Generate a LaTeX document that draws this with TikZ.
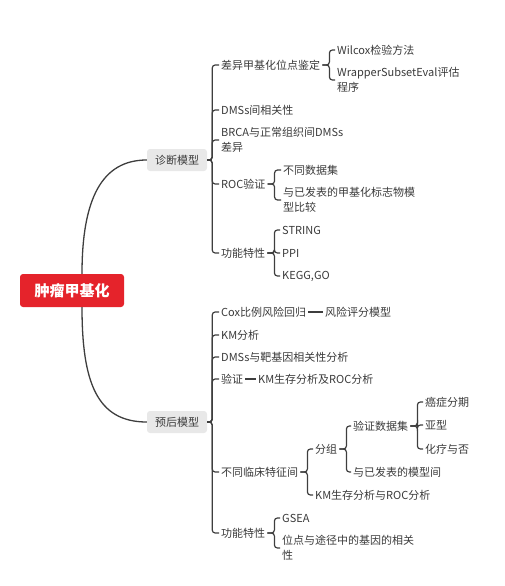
\documentclass[tikz,border=0pt]{standalone}
\usepackage{fontspec}
\setmainfont{Noto Sans CJK SC}
\usepackage{tikz}
\usetikzlibrary{calc}
\definecolor{rootred}{HTML}{E5232B}
\definecolor{topicgray}{HTML}{E8E8E8}
\definecolor{linegray}{HTML}{3E3E3E}
\definecolor{textgray}{HTML}{3A3A3A}
\tikzset{
    root/.style={fill=rootred, text=white, rounded corners=3pt, minimum width=104pt,
        minimum height=33pt, font=\fontsize{15}{18}\selectfont\bfseries},
    topic/.style={fill=topicgray, text=textgray, rounded corners=3pt, minimum width=60pt,
        minimum height=22pt, font=\fontsize{11}{14}\selectfont},
    leaf/.style={anchor=west, text=textgray, inner xsep=2pt, inner ysep=2pt, align=left,
        font=\fontsize{11}{15}\selectfont},
    link/.style={draw=linegray, line width=1.2pt, rounded corners=3pt},
    curvelink/.style={draw=linegray, line width=1.3pt}
}

\begin{document}
\begin{tikzpicture}[x=1pt, y=-1pt]
            \useasboundingbox (0,0) rectangle (505,586);

            % ---------------- main topics ----------------
            \node[root] (root) at (72,290.5) {肿瘤甲基化};
            \node[topic] (diag) at (177,160) {诊断模型};
            \node[topic] (prog) at (177,422) {预后模型};

            \draw[curvelink] ($(root.north)+(10,0)$) .. controls +(0,-75) and +(-45,0) .. (diag.west);
            \draw[curvelink] ($(root.south)+(10,0)$) .. controls +(0,75) and +(-50,0) .. (prog.west);

            % ---------------- 诊断模型 ----------------
            \node[leaf] (d1) at (219,65) {差异甲基化位点鉴定};
            \node[leaf] (d1a) at (335,50) {Wilcox检验方法};
            \node[leaf] (d1b) at (335,80) {WrapperSubsetEval评估\\程序};
            \node[leaf] (d2) at (219,110) {DMSs间相关性};
            \node[leaf] (d3) at (219,140) {BRCA与正常组织间DMSs\\差异};
            \node[leaf] (d4) at (219,184) {ROC验证};
            \node[leaf] (d4a) at (281,170) {不同数据集};
            \node[leaf] (d4b) at (281,200) {与已发表的甲基化标志物模\\型比较};
            \node[leaf] (d5) at (219,253) {功能特性};
            \node[leaf] (d5a) at (280,230) {STRING};
            \node[leaf] (d5b) at (280,253) {PPI};
            \node[leaf] (d5c) at (280,276) {KEGG,GO};

            \foreach \c in {d1,d2,d3,d4,d5}
                \draw[link] (diag.east) -- ++(5,0) |- (\c.west);
            \foreach \c in {d1a,d1b}
                \draw[link] (d1.east) -- ++(7,0) |- (\c.west);
            \foreach \c in {d4a,d4b}
                \draw[link] (d4.east) -- ++(7,0) |- (\c.west);
            \foreach \c in {d5a,d5b,d5c}
                \draw[link] (d5.east) -- ++(7,0) |- (\c.west);

            % ---------------- 预后模型 ----------------
            \node[leaf] (p1) at (219,312) {Cox比例风险回归};
            \node[leaf] (p1a) at (323,312) {风险评分模型};
            \node[leaf] (p2) at (219,335) {KM分析};
            \node[leaf] (p3) at (219,357) {DMSs与靶基因相关性分析};
            \node[leaf] (p4) at (219,379) {验证};
            \node[leaf] (p4a) at (256,379) {KM生存分析及ROC分析};
            \node[leaf] (p5) at (219,472) {不同临床特征间};
            \node[leaf] (p5a) at (313,449) {分组};
            \node[leaf] (p5a1) at (351,426) {验证数据集};
            \node[leaf] (p5a1a) at (423,402) {癌症分期};
            \node[leaf] (p5a1b) at (423,425) {亚型};
            \node[leaf] (p5a1c) at (423,449) {化疗与否};
            \node[leaf] (p5a2) at (351,472) {与已发表的模型间};
            \node[leaf] (p5b) at (313,495) {KM生存分析与ROC分析};
            \node[leaf] (p6) at (219,533) {功能特性};
            \node[leaf] (p6a) at (280,518) {GSEA};
            \node[leaf] (p6b) at (280,548) {位点与途径中的基因的相关\\性};

            \foreach \c in {p1,p2,p3,p4,p5,p6}
                \draw[link] (prog.east) -- ++(5,0) |- (\c.west);
            \draw[link] (p1.east) -- (p1a.west);
            \draw[link] (p4.east) -- (p4a.west);
            \foreach \c in {p5a,p5b}
                \draw[link] (p5.east) -- ++(7,0) |- (\c.west);
            \foreach \c in {p5a1,p5a2}
                \draw[link] (p5a.east) -- ++(7,0) |- (\c.west);
            \foreach \c in {p5a1a,p5a1b,p5a1c}
                \draw[link] (p5a1.east) -- ++(7,0) |- (\c.west);
            \foreach \c in {p6a,p6b}
                \draw[link] (p6.east) -- ++(7,0) |- (\c.west);
        \end{tikzpicture}
\end{document}
